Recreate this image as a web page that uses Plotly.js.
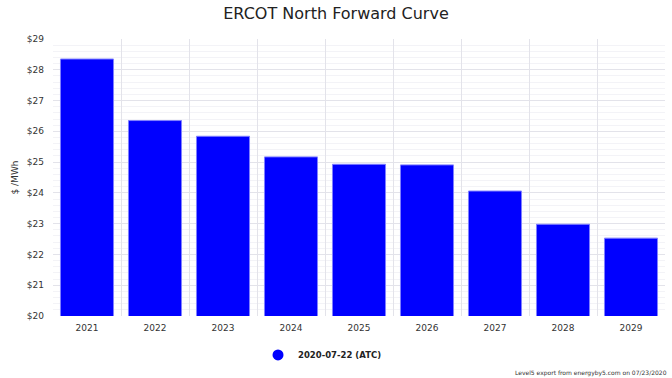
<!DOCTYPE html>
<html>
<head>
<meta charset="utf-8">
<script src="https://cdn.plot.ly/plotly-3.0.1.min.js"></script>
<style>html,body{margin:0;padding:0;background:#fff;}#chart{width:672px;height:378px;}</style>
</head>
<body>
<div id="chart"></div>
<script>
var years = ["2021","2022","2023","2024","2025","2026","2027","2028","2029"];
var prices = [28.35, 26.35, 25.84, 25.17, 24.93, 24.91, 24.06, 22.98, 22.53];
var seriesName = "2020-07-22 (ATC)";
var yTicks = [20,21,22,23,24,25,26,27,28,29];
var yTickText = ["$20","$21","$22","$23","$24","$25","$26","$27","$28","$29"];

var font = "DejaVu Sans, Verdana, sans-serif";
var traces = [
  {
    type: "bar", x: years, y: prices, name: seriesName, showlegend: false,
    marker: {color: "#0000ff", line: {color: "#8080ff", width: 1}},
    hoverinfo: "x+y"
  },
  {
    type: "scatter", mode: "markers", x: [null], y: [null], name: seriesName,
    marker: {color: "#0000ff", size: 11, symbol: "circle"}, showlegend: true
  }
];
var layout = {
  width: 672, height: 378,
  margin: {l: 53, r: 7, t: 39, b: 62},
  paper_bgcolor: "#fff", plot_bgcolor: "#fff",
  font: {family: font, size: 9, color: "#333"},
  title: {text: "ERCOT North Forward Curve", font: {family: font, size: 16, color: "#222"}, x: 0.5, xanchor: "center", y: 0.98, yanchor: "top"},
  bargap: 0.22,
  xaxis: {
    type: "category", tickson: "boundaries", showgrid: true, gridcolor: "#e3e3ea", gridwidth: 1,
    ticks: "", ticklabelstandoff: 5, tickfont: {family: font, size: 9, color: "#333"}, zeroline: false, showline: false,
    automargin: false
  },
  yaxis: {
    range: [20, 29], tickvals: yTicks, ticktext: yTickText, showgrid: true, gridcolor: "#e3e3ea", gridwidth: 1,
    minor: {dtick: 0.2, showgrid: true, gridcolor: "#f3f3f7", gridwidth: 1},
    ticks: "", ticklabelstandoff: 8, tickfont: {family: font, size: 9, color: "#333"}, zeroline: false, showline: false,
    automargin: false,
    title: {text: "$ /MWh", font: {family: font, size: 9, color: "#333"}, standoff: 6}
  },
  legend: {
    orientation: "h", x: 0.335, xanchor: "left", yref: "container", y: 0.061, yanchor: "middle",
    font: {family: font, size: 8.5, color: "#222", weight: "bold"}, itemwidth: 30
  },
  annotations: [
    {text: "Level5 export from energyby5.com on 07/23/2020", xref: "paper", yref: "paper", x: 1, y: -0.206, xanchor: "right", yanchor: "middle",
     xshift: 4, showarrow: false, font: {family: font, size: 6, color: "#333"}}
  ]
};
Plotly.newPlot("chart", traces, layout, {displayModeBar: false, staticPlot: true});
</script>
</body>
</html>
